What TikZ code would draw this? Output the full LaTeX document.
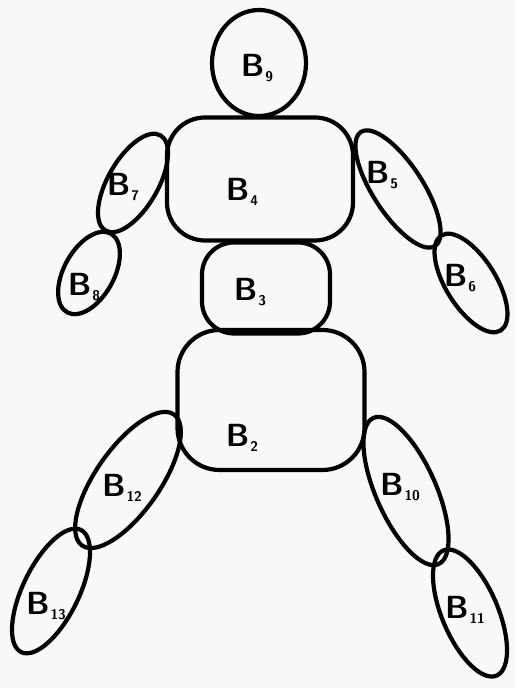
\documentclass[tikz,border=0pt]{standalone}
\usetikzlibrary{
    shapes.geometric,
    positioning,
}
\definecolor{paper}{RGB}{248,248,246}
% body name: a large B with a small index
\newcommand{\bname}[1]{B\kern1pt\raisebox{-0.3ex}{\fontsize{14}{16}\selectfont #1}}

\begin{document}
\begin{tikzpicture}[
        x=1pt, y=1pt,
        part/.style={draw, ellipse, line width=4.2pt, inner sep=0pt},
        block/.style={draw, rectangle, line width=4.2pt, inner sep=0pt},
        lbl/.style={font=\fontsize{32}{36}\selectfont\sffamily\bfseries, inner sep=0pt},
    ]
    \fill[paper] (0,0) rectangle (515,688);
    \useasboundingbox (0,0) rectangle (515,688);

    % head and trunk
    \node[part, minimum width=94, minimum height=106] (b9) at (259,625) {};
    \node[block, rounded corners=38, minimum width=186, minimum height=123] (b4) at (260,509) {};
    \node[block, rounded corners=32, minimum width=128, minimum height=91] (b3) at (266,400) {};
    \node[block, rounded corners=42, minimum width=187, minimum height=140] (b2) at (271,288) {};

    % arms
    \node[part, rotate=-30, minimum width=50, minimum height=110] (b7) at (133,505) {};
    \node[part, rotate=-29, minimum width=50, minimum height=90] (b8) at (89,415) {};
    \node[part, rotate=33, minimum width=50, minimum height=136] (b5) at (398,499) {};
    \node[part, rotate=32, minimum width=50, minimum height=112] (b6) at (471,405) {};

    % legs
    \node[part, rotate=-35, minimum width=64, minimum height=160] (b12) at (128,208) {};
    \node[part, rotate=-26, minimum width=56, minimum height=136] (b13) at (51,97) {};
    \node[part, rotate=24, minimum width=60, minimum height=160] (b10) at (406,197) {};
    \node[part, rotate=23, minimum width=56, minimum height=136] (b11) at (470,75) {};

    % names of the bodies
    \node[lbl] (l9) at (257,620) {\bname{9}};
    \node[lbl] (l4) at (242,496) {\bname{4}};
    \node[lbl] (l3) at (250,396) {\bname{3}};
    \node[lbl] (l2) at (242,250) {\bname{2}};
    \node[lbl] (l7) at (123,501) {\bname{7}};
    \node[lbl] (l8) at (84,401) {\bname{8}};
    \node[lbl] (l5) at (382,513) {\bname{5}};
    \node[lbl] (l6) at (460,410) {\bname{6}};
    \node[lbl] (l12) at (122,200) {\bname{12}};
    \node[lbl] (l13) at (46,82) {\bname{13}};
    \node[lbl] (l10) at (400,201) {\bname{10}};
    \node[lbl] (l11) at (465,78) {\bname{11}};
\end{tikzpicture}
\end{document}
